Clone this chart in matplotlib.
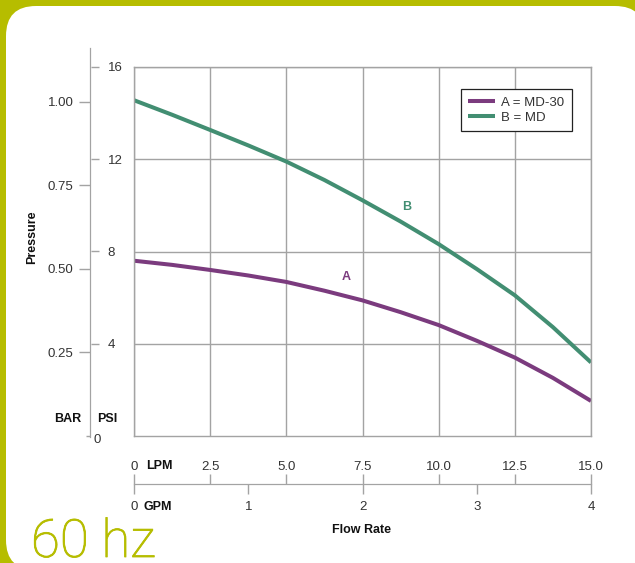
import numpy as np
import matplotlib
matplotlib.use("Agg")
import matplotlib.pyplot as plt
import matplotlib.patheffects as pe
from matplotlib.patches import FancyBboxPatch

# pump curves (flow in LPM, pressure in PSI)
lpm = [0, 1.25, 2.5, 3.75, 5.0, 6.25, 7.5, 8.75, 10.0, 11.25, 12.5, 13.75, 15.0]
psi_a = [7.6, 7.42, 7.2, 6.96, 6.68, 6.3, 5.88, 5.37, 4.81, 4.13, 3.4, 2.52, 1.52]
psi_b = [14.56, 13.93, 13.27, 12.6, 11.9, 11.1, 10.22, 9.3, 8.32, 7.24, 6.1, 4.72, 3.19]
names = ["A = MD-30", "B = MD"]

lpm_ticks = [0, 2.5, 5.0, 7.5, 10.0, 12.5, 15.0]
lpm_labels = ["0", "2.5", "5.0", "7.5", "10.0", "12.5", "15.0"]
gpm_ticks = [0, 1, 2, 3, 4]
psi_ticks = [4, 8, 12, 16]
bar_ticks = [0.25, 0.50, 0.75, 1.00]
bar_labels = ["0.25", "0.50", "0.75", "1.00"]

LIME = "#b6bd00"
GREEN = "#428e72"
PURPLE = "#7b3b7e"
GRID = "#a3a3a3"
TXT = "#333333"
NARROW = ["Liberation Sans Narrow", "Liberation Sans", "DejaVu Sans"]
plt.rcParams["font.family"] = ["Liberation Sans", "DejaVu Sans"]

W, H = 635, 563
fig = plt.figure(figsize=(W / 100, H / 100), dpi=100)
fig.patch.set_facecolor(LIME)

def fx(px):
    return px / W

def fy(py):
    return 1 - py / H

# background card
bg = fig.add_axes([0, 0, 1, 1])
bg.set_xlim(0, W)
bg.set_ylim(H, 0)
bg.axis("off")
bg.add_patch(FancyBboxPatch((6, 6), 639, 564, boxstyle="round,pad=0,rounding_size=30",
                            fc="white", ec="none"))

# main plot
ax = fig.add_axes([fx(134), fy(436), 457 / W, 369 / H])
ax.set_xlim(0, 15)
ax.set_ylim(0, 16)
ax.set_xticks(lpm_ticks)
ax.set_yticks(psi_ticks)
ax.grid(True, color=GRID, lw=1)
ax.tick_params(length=0, labelbottom=False, labelleft=False)
for s in ax.spines.values():
    s.set_color(GRID)
    s.set_linewidth(1)
ax.plot(lpm, psi_a, color=PURPLE, lw=2.9, label=names[0], solid_capstyle="butt")
ax.plot(lpm, psi_b, color=GREEN, lw=2.9, label=names[1], solid_capstyle="butt")
ax.text(6.96, 6.9, "A", color=PURPLE, weight="bold", ha="center", va="center", fontsize=9)
ax.text(8.96, 9.93, "B", color=GREEN, weight="bold", ha="center", va="center", fontsize=9)
leg = ax.legend(loc="upper right", bbox_to_anchor=(0.958, 0.94), frameon=True, fancybox=False,
                edgecolor="#222222", framealpha=1, fontsize=9.5, handlelength=2.0,
                handletextpad=0.5, borderpad=0.55, labelspacing=0.2, borderaxespad=0)
leg.get_frame().set_linewidth(0.9)
for t in leg.get_texts():
    t.set_color(TXT)

# pressure scale (PSI right of line, BAR left of line)
ppx = 369 / 16
pax = fig.add_axes([fx(90), fy(437), 0.0008, (437 - 48) / H])
pax.set_ylim((436 - 437) / ppx, (436 - 48) / ppx)
pax.patch.set_alpha(0)
for k in ["top", "right", "bottom"]:
    pax.spines[k].set_visible(False)
pax.spines["left"].set_color(GRID)
pax.set_xticks([])
pax.yaxis.tick_right()
pax.set_yticks(psi_ticks)
pax.tick_params(axis="y", direction="out", length=5.5, width=1, color=GRID, pad=7,
                labelsize=9.5, labelcolor=TXT)
bar = pax.secondary_yaxis("left", functions=(lambda p: p / 14.5, lambda b: b * 14.5))
bar.set_yticks(bar_ticks)
bar.set_yticklabels(bar_labels)
bar.set_yticks([0], minor=True)
bar.tick_params(direction="out", length=8, width=1, color=GRID, pad=4,
                labelsize=9.5, labelcolor=TXT)
bar.tick_params(which="minor", length=3, width=1, color=GRID)
bar.spines["left"].set_color(GRID)
bg.text(94, 440, "0", ha="left", va="center", fontsize=9.5, color=TXT)

# flow scale (LPM above line, GPM below)
fax = fig.add_axes([fx(134), fy(484), 457 / W, 0.0008])
fax.set_xlim(0, 15)
fax.patch.set_alpha(0)
for k in ["top", "left", "right"]:
    fax.spines[k].set_visible(False)
fax.spines["bottom"].set_color(GRID)
fax.set_yticks([])
fax.xaxis.tick_top()
fax.set_xticks(lpm_ticks)
fax.set_xticklabels(lpm_labels)
fax.tick_params(axis="x", direction="out", length=7, width=1, color=GRID, pad=0.8,
                labelsize=9.5, labelcolor=TXT)
gpm = fax.secondary_xaxis("bottom", functions=(lambda l: l / 3.75, lambda g: g * 3.75))
gpm.set_xticks(gpm_ticks)
gpm.tick_params(direction="out", length=7, width=1, color=GRID, pad=5.5,
                labelsize=9.5, labelcolor=TXT)
gpm.spines["bottom"].set_color(GRID)
fax.xaxis.get_major_ticks()[0].tick2line.set_color("#d0d0d0")
gpm.xaxis.get_major_ticks()[0].tick1line.set_color("#d0d0d0")

# bold axis captions
bold = dict(weight="bold", fontsize=9, family=NARROW, color="#111111", va="center")
bg.text(68, 419, "BAR", ha="center", **bold)
bg.text(107, 419, "PSI", ha="center", **bold)
bg.text(32, 237, "Pressure", ha="center", rotation=90, **bold)
bg.text(146, 466, "LPM", ha="left", **bold)
bg.text(144, 507, "GPM", ha="left", **bold)
bg.text(362, 530, "Flow Rate", ha="center", **bold)

# big frequency tag: thin face with a slight same-colour outline
hz = bg.text(31, 557, "60 hz", color=LIME, fontsize=38, family=["Roboto", "DejaVu Sans"],
             weight="light", ha="left", va="baseline")
hz.set_path_effects([pe.Stroke(linewidth=0.6, foreground=LIME), pe.Normal()])

fig.savefig("out.png", dpi=100, facecolor=fig.get_facecolor())
